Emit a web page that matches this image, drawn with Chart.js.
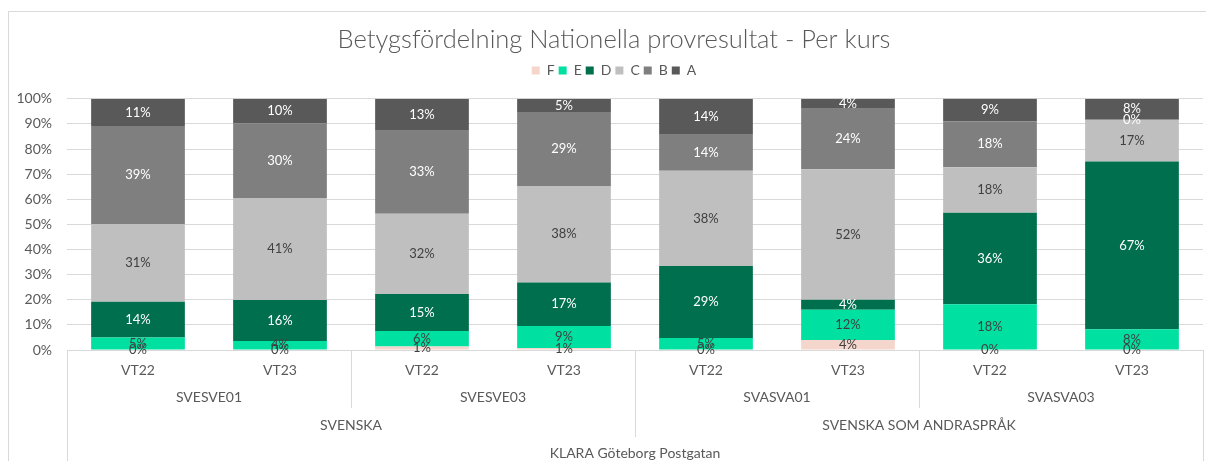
<!DOCTYPE html>
<html>
<head>
<meta charset="utf-8">
<script src="https://cdn.jsdelivr.net/npm/chart.js@4"></script>
<style>
  html, body { margin: 0; padding: 0; background: #fff; overflow: hidden; }
  #wrap { width: 1228px; height: 461px; position: relative; }
</style>
</head>
<body>
<div id="wrap"><canvas id="gradeChart"></canvas></div>
<script>
// kategorier (tre nivåer + skola)
const periods = ['VT22', 'VT23', 'VT22', 'VT23', 'VT22', 'VT23', 'VT22', 'VT23'];
const courses = ['SVESVE01', 'SVESVE03', 'SVASVA01', 'SVASVA03'];
const subjects = ['SVENSKA', 'SVENSKA SOM ANDRASPRÅK'];
const school = 'KLARA Göteborg Postgatan';

// andel per betyg (%)
const gradeF = [0, 0, 1.4, 0.8, 0, 4, 0, 0];
const gradeE = [5.0, 3.6, 6.2, 8.8, 4.8, 12, 18.2, 8.3];
const gradeD = [14.2, 16.3, 14.7, 17.3, 28.6, 4, 36.4, 66.7];
const gradeC = [30.9, 40.6, 31.9, 38.4, 38.0, 52, 18.2, 16.7];
const gradeB = [39.1, 29.7, 33.1, 29.4, 14.3, 24, 18.2, 0];
const gradeA = [10.8, 9.8, 12.7, 5.3, 14.3, 4, 9.1, 8.3];

const yTicks = [0, 10, 20, 30, 40, 50, 60, 70, 80, 90, 100];

const FONT = 'Lato, "Open Sans", sans-serif';
const GRID = '#d9d9d9';
const TEXT = '#595959';

const series = [
  { label: 'F', data: gradeF, color: '#f5d6cd', text: '#404040' },
  { label: 'E', data: gradeE, color: '#00e0a0', text: '#404040' },
  { label: 'D', data: gradeD, color: '#006f4e', text: '#ffffff' },
  { label: 'C', data: gradeC, color: '#bfbfbf', text: '#404040' },
  { label: 'B', data: gradeB, color: '#7f7f7f', text: '#ffffff' },
  { label: 'A', data: gradeA, color: '#595959', text: '#ffffff' }
];

// ram + vit bakgrund
const frame = {
  id: 'frame',
  beforeDraw(chart) {
    const c = chart.ctx;
    c.save();
    c.fillStyle = '#fff';
    c.fillRect(0, 0, chart.width, chart.height);
    c.strokeStyle = GRID;
    c.lineWidth = 1;
    c.strokeRect(8.5, 11.5, chart.width + 10, chart.height + 10);
    c.restore();
  }
};

// procentetiketter mitt i varje segment
const segLabels = {
  id: 'segLabels',
  afterDatasetsDraw(chart) {
    const c = chart.ctx;
    c.save();
    c.font = '13px ' + FONT;
    c.textAlign = 'center';
    c.textBaseline = 'middle';
    chart.data.datasets.forEach((ds, i) => {
      const meta = chart.getDatasetMeta(i);
      meta.data.forEach((bar, j) => {
        c.fillStyle = series[i].text;
        c.fillText(Math.round(ds.data[j]) + '%', bar.x, (bar.y + bar.base) / 2);
      });
    });
    c.restore();
  }
};

// flernivå-kategoriaxel
const multiAxis = {
  id: 'multiAxis',
  afterDraw(chart) {
    const c = chart.ctx;
    const x = chart.scales.x;
    const area = chart.chartArea;
    const top = area.bottom;
    const px = (i) => x.getPixelForValue(i);
    const edge = (i) => i <= 0 ? area.left : i >= periods.length ? area.right : (px(i - 1) + px(i)) / 2;
    const vline = (xp, y2) => {
      c.beginPath();
      c.moveTo(Math.round(xp) + 0.5, top);
      c.lineTo(Math.round(xp) + 0.5, y2);
      c.stroke();
    };

    c.save();
    c.strokeStyle = GRID;
    c.lineWidth = 1;
    // ytterkanter
    vline(area.left, chart.height);
    vline(area.right, chart.height);
    // kursgränser
    vline(edge(2), 408);
    vline(edge(6), 408);
    // ämnesgräns
    vline(edge(4), 437);

    c.fillStyle = TEXT;
    c.font = '14px ' + FONT;
    c.textAlign = 'center';
    c.textBaseline = 'middle';
    courses.forEach((name, k) => {
      c.fillText(name, (edge(2 * k) + edge(2 * k + 2)) / 2, 397);
    });
    subjects.forEach((name, k) => {
      c.fillText(name, (edge(4 * k) + edge(4 * k + 4)) / 2, 425);
    });
    c.fillText(school, (area.left + area.right) / 2, 453);
    c.restore();
  }
};

const ctx = document.getElementById('gradeChart').getContext('2d');

new Chart(ctx, {
  type: 'bar',
  data: {
    labels: periods,
    datasets: series.map(s => ({
      label: s.label,
      data: s.data,
      backgroundColor: s.color,
      borderWidth: 0,
      barPercentage: 0.66,
      categoryPercentage: 1
    }))
  },
  options: {
    responsive: true,
    maintainAspectRatio: false,
    animation: false,
    layout: { padding: 0 },
    plugins: {
      title: {
        display: true,
        text: 'Betygsfördelning Nationella provresultat - Per kurs',
        color: TEXT,
        font: { family: FONT, size: 25.5, weight: '300' },
        padding: { top: 24, bottom: 5 }
      },
      // tom rad under legenden som luft ovanför ritytan
      subtitle: {
        display: true,
        text: '',
        weight: 500,
        font: { size: 1 },
        padding: { top: 0, bottom: 10 }
      },
      legend: {
        position: 'top',
        labels: {
          boxWidth: 8,
          boxHeight: 8,
          padding: 4,
          color: TEXT,
          font: { family: FONT, size: 14 }
        }
      },
      tooltip: { enabled: false }
    },
    scales: {
      x: {
        stacked: true,
        grid: { display: false },
        border: { display: false },
        ticks: {
          color: TEXT,
          padding: 4,
          maxRotation: 0,
          font: { family: FONT, size: 14 }
        },
        afterFit: (scale) => { scale.height = 111; }
      },
      y: {
        stacked: true,
        min: 0,
        max: 100,
        afterBuildTicks: (scale) => { scale.ticks = yTicks.map(v => ({ value: v })); },
        grid: { color: GRID, drawTicks: false },
        border: { display: false },
        ticks: {
          color: TEXT,
          padding: 15,
          font: { family: FONT, size: 14 },
          callback: (val) => val + '%'
        },
        afterFit: (scale) => { scale.width = 67; }
      },
      // osynlig kant till höger (diagrammet fortsätter utanför bilden)
      yRight: {
        position: 'right',
        grid: { display: false },
        border: { display: false },
        ticks: { display: false },
        afterFit: (scale) => { scale.width = 25; }
      }
    }
  },
  plugins: [frame, segLabels, multiAxis]
});
</script>
</body>
</html>
